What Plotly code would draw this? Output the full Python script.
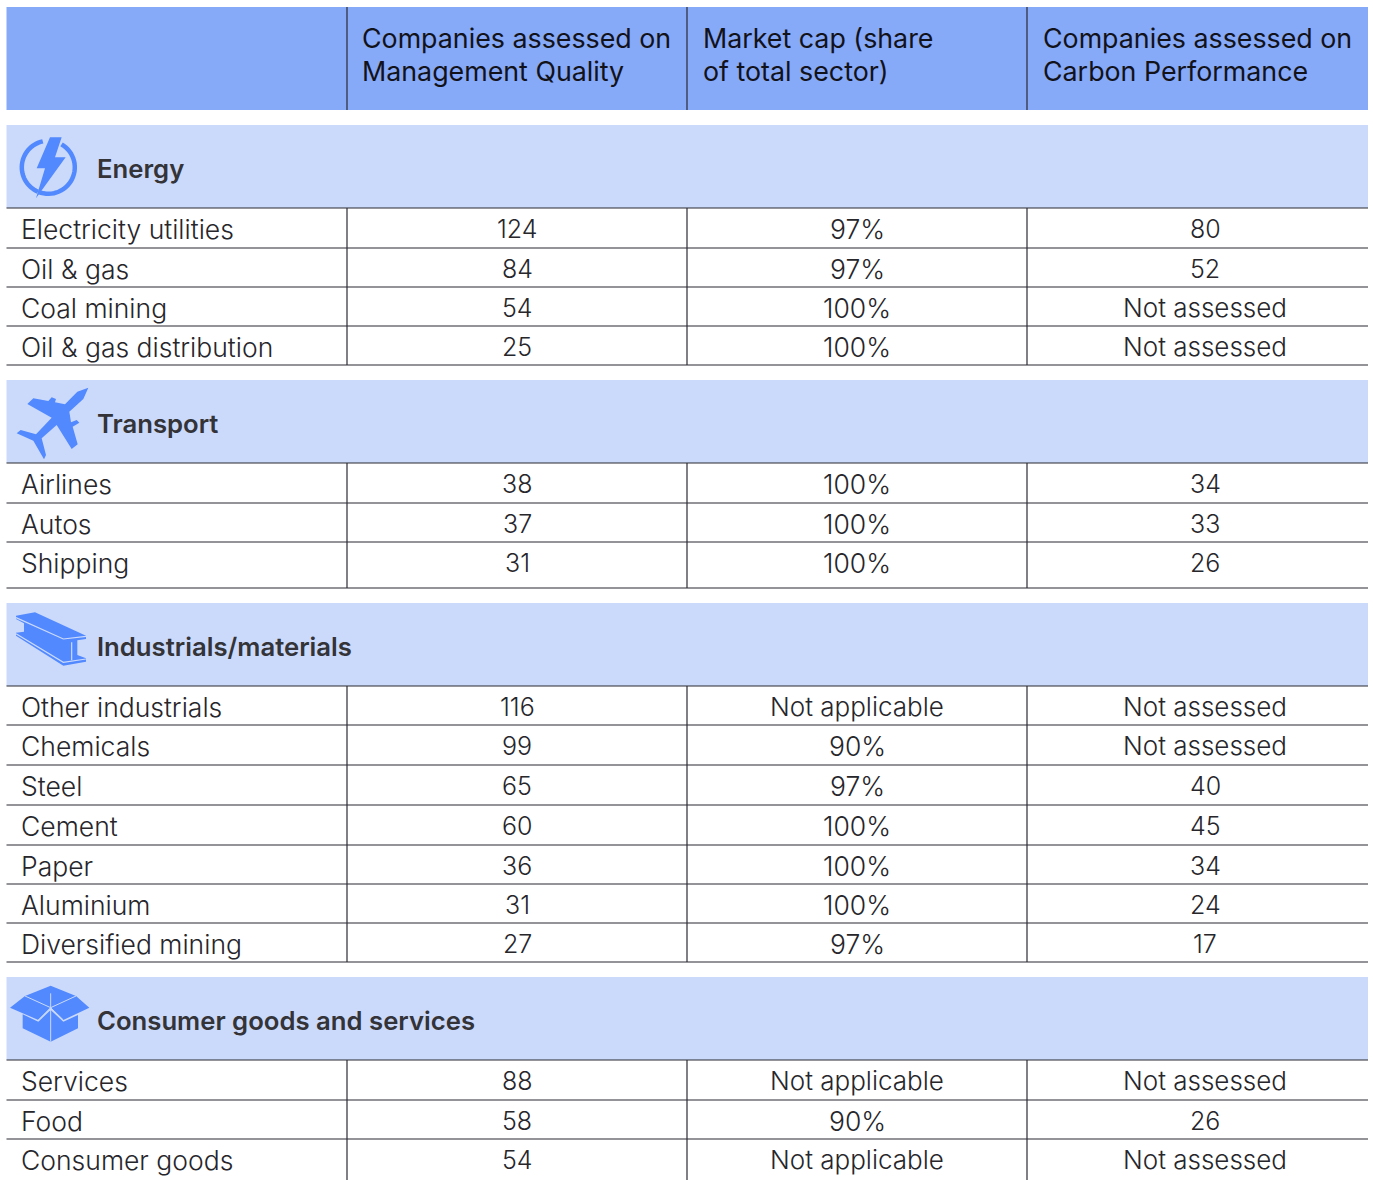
import math
import plotly.graph_objects as go

HEADER_1 = ["Companies assessed on", "Market cap (share", "Companies assessed on"]
HEADER_2 = ["Management Quality", "of total sector)", "Carbon Performance"]
SECTIONS = ["Energy", "Transport", "Industrials/materials", "Consumer goods and services"]
ENERGY_ROWS = ["Electricity utilities", "Oil & gas", "Coal mining", "Oil & gas distribution"]
ENERGY_MQ = ["124", "84", "54", "25"]
ENERGY_CAP = ["97%", "97%", "100%", "100%"]
ENERGY_CP = ["80", "52", "Not assessed", "Not assessed"]
TRANSPORT_ROWS = ["Airlines", "Autos", "Shipping"]
TRANSPORT_MQ = ["38", "37", "31"]
TRANSPORT_CAP = ["100%", "100%", "100%"]
TRANSPORT_CP = ["34", "33", "26"]
INDUSTRIAL_ROWS = ["Other industrials", "Chemicals", "Steel", "Cement", "Paper", "Aluminium", "Diversified mining"]
INDUSTRIAL_MQ = ["116", "99", "65", "60", "36", "31", "27"]
INDUSTRIAL_CAP = ["Not applicable", "90%", "97%", "100%", "100%", "100%", "97%"]
INDUSTRIAL_CP = ["Not assessed", "Not assessed", "40", "45", "34", "24", "17"]
CONSUMER_ROWS = ["Services", "Food", "Consumer goods"]
CONSUMER_MQ = ["88", "58", "54"]
CONSUMER_CAP = ["Not applicable", "90%", "Not applicable"]
CONSUMER_CP = ["Not assessed", "26", "Not assessed"]

FONT = "Inter"
W, H = 1373, 1180
L, R = 6.5, 1368
VLINES = [347, 687, 1027]
HEAD_C = "#86A9F8"; BAND_C = "#CBDAFB"; ICON_C = "#5289FF"; LINE_C = "#2b2b33"; TXT_C = "#26262b"
CENTERS = [517, 857, 1205]
HEAD_SIZE = 26.8
SEC_SIZE = 25.7

blocks = [
    (125, 208, [208, 248, 287, 326, 365], ENERGY_ROWS, ENERGY_MQ, ENERGY_CAP, ENERGY_CP),
    (380, 463, [463, 503, 542, 588], TRANSPORT_ROWS, TRANSPORT_MQ, TRANSPORT_CAP, TRANSPORT_CP),
    (603, 686, [686, 725, 765, 805, 845, 884, 923, 962], INDUSTRIAL_ROWS, INDUSTRIAL_MQ, INDUSTRIAL_CAP, INDUSTRIAL_CP),
    (977, 1060, [1060, 1100, 1139, 1180], CONSUMER_ROWS, CONSUMER_MQ, CONSUMER_CAP, CONSUMER_CP),
]

shapes, annos = [], []

def rect(x0, y0, x1, y1, c):
    shapes.append(dict(type="rect", x0=x0, y0=y0, x1=x1, y1=y1, fillcolor=c, line_width=0, layer="below"))

def line(x0, y0, x1, y1, c=LINE_C, w=1.2):
    shapes.append(dict(type="line", x0=x0, y0=y0, x1=x1, y1=y1, line=dict(color=c, width=w)))

def poly(pts, ox, oy, c=ICON_C, close=True, w=0, s=3):
    d = "M " + " L ".join(f"{ox + x / s:.2f},{oy + y / s:.2f}" for x, y in pts) + (" Z" if close else "")
    if close:
        shapes.append(dict(type="path", path=d, fillcolor=c, line_width=w, line_color=c))
    else:
        shapes.append(dict(type="path", path=d, line=dict(color=c, width=w)))

def text(x, y, t, size, anchor="center", color=TXT_C, weight=300):
    annos.append(dict(x=x, y=y, text=t, showarrow=False, xanchor=anchor, yanchor="middle",
                      align="left" if anchor == "left" else "center",
                      font=dict(family=FONT, size=size, color=color, weight=weight), xref="x", yref="y"))

def cell_size(t):
    if t.isdigit():
        return 25
    if t.endswith("%"):
        return 26.5
    return 26

# header
rect(L, 7, R, 110, HEAD_C)
for x in VLINES:
    line(x, 7, x, 110)
for x, a, b in zip([359.5, 700.5, 1040.5], HEADER_1, HEADER_2):
    text(x, 38, a, HEAD_SIZE, "left", "#12121a", 400)
    text(x, 71, b, HEAD_SIZE, "left", "#12121a", 400)

for (top, bot, lines, names, mq, cap, cp), sec in zip(blocks, SECTIONS):
    rect(L, top, R, bot, BAND_C)
    text(94.5, (top + bot) / 2 + 1.5, sec, SEC_SIZE, "left", "#333338", 600)
    for y in lines:
        if y < 1180:
            line(L, y, R, y)
    for x in VLINES:
        line(x, bot, x, lines[-1])
    for i, n in enumerate(names):
        y = lines[i] + 20.5
        text(19, y, n, 26.5, "left")
        for cx, col in zip(CENTERS, (mq, cap, cp)):
            text(cx, y, col[i], cell_size(col[i]))

# energy icon
poly([(150, 52), (185, 52), (165, 112), (197, 112), (108, 235), (135, 145), (110, 145)], 0, 120)
cx, cy, r = 48.3, 167.3, 26.5
def arc(a0, a1):
    return [((cx + r * math.cos(math.radians(a0 + (a1 - a0) * k / 30))) * 3, (cy - 120 + r * math.sin(math.radians(a0 + (a1 - a0) * k / 30))) * 3) for k in range(31)]
poly(arc(-102, -247), 0, 120, close=False, w=4.5)
poly(arc(-60, 112), 0, 120, close=False, w=4.5)

# plane icon
poly([(265, 38), (232, 50), (195, 88), (165, 82), (168, 72), (155, 67), (145, 78), (100, 70), (82, 87), (155, 128),
      (108, 178), (62, 165), (50, 175), (100, 197), (132, 253), (138, 240), (125, 190), (170, 150), (215, 222),
      (233, 208), (218, 155), (238, 143), (230, 135), (213, 142), (208, 110), (250, 72)], 0, 375)

# beam icon
poly([(48, 62), (105, 52), (258, 122), (258, 132), (232, 136), (232, 180), (258, 190), (258, 200), (190, 212),
      (48, 122), (48, 113), (72, 110), (72, 85), (48, 72)], 0, 595)
poly([(48, 68), (190, 132), (258, 124)], 0, 595, BAND_C, False, 1.2)
poly([(48, 116), (190, 202), (258, 192)], 0, 595, BAND_C, False, 1.2)
poly([(215, 142), (215, 196)], 0, 595, BAND_C, False, 1.2)

# box icon
poly([(152, 47), (228, 78), (268, 113), (190, 150), (152, 113), (115, 150), (30, 113), (75, 78)], 0, 970)
poly([(68, 133), (115, 155), (152, 120), (190, 155), (234, 135), (234, 175), (152, 215), (68, 175)], 0, 970)
poly([(152, 70), (152, 215)], 0, 970, BAND_C, False, 1)
poly([(75, 78), (152, 113), (228, 78)], 0, 970, BAND_C, False, 1)
poly([(115, 150), (152, 113), (190, 150)], 0, 970, BAND_C, False, 1)

fig = go.Figure()
fig.update_layout(width=W, height=H, margin=dict(l=0, r=0, t=0, b=0), paper_bgcolor="white", plot_bgcolor="white",
                  showlegend=False, shapes=shapes, annotations=annos,
                  xaxis=dict(range=[0, W], visible=False, fixedrange=True),
                  yaxis=dict(range=[H, 0], visible=False, fixedrange=True))
fig.write_html("out.html", config=dict(displayModeBar=False),
               post_script="document.body.style.margin='0';document.documentElement.style.overflow='hidden';")
